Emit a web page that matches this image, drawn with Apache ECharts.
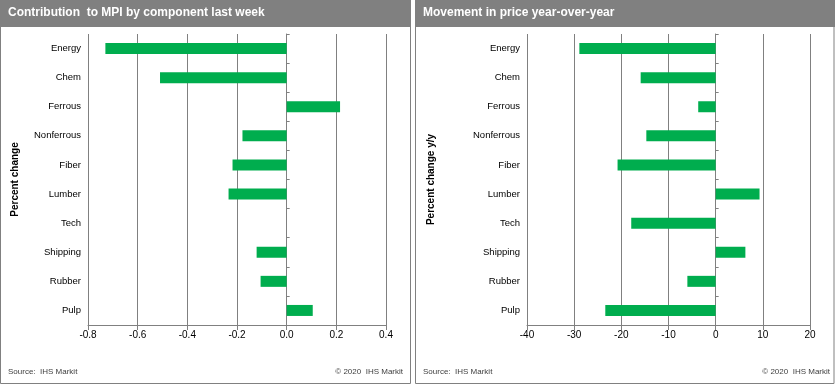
<!DOCTYPE html>
<html>
<head>
<meta charset="utf-8">
<script src="https://cdn.jsdelivr.net/npm/echarts@6/dist/echarts.min.js"></script>
<style>html,body{margin:0;padding:0;background:#fff}#c{width:837px;height:385px}</style>
</head>
<body>
<div id="c"></div>
<script>
const categories = ['Energy','Chem','Ferrous','Nonferrous','Fiber','Lumber','Tech','Shipping','Rubber','Pulp'];
const contribution = [-0.73, -0.51, 0.215, -0.178, -0.218, -0.234, 0, -0.121, -0.105, 0.105];
const yoyMovement = [-28.9, -15.9, -3.7, -14.7, -20.8, 9.3, -17.9, 6.3, -6.0, -23.4];
const leftTicks = {min: -0.8, max: 0.4, interval: 0.2};
const rightTicks = {min: -40, max: 20, interval: 10};

const FONT = '"Liberation Sans", Arial, sans-serif';
const GRAY = '#808080';
const GREEN = '#00AD4E';
const chart = echarts.init(document.getElementById('c'), null, {renderer: 'canvas'});

function xAxisDef(idx, t, digits) {
  return {
    type: 'value', gridIndex: idx, min: t.min, max: t.max, interval: t.interval,
    axisLine: {show: true, onZero: false, lineStyle: {color: GRAY, width: 1}},
    axisTick: {show: true, length: 5, lineStyle: {color: GRAY}},
    axisLabel: {color: '#000', fontFamily: FONT, fontSize: 10, margin: 5,
      formatter: v => Number(v).toFixed(digits)},
    splitLine: {show: true, lineStyle: {color: GRAY, width: 1}}
  };
}
function yLabelAxis(idx, name, gap) {
  return {
    type: 'category', gridIndex: idx, data: categories, inverse: true, position: 'left',
    axisLine: {show: false, onZero: false}, axisTick: {show: false},
    axisLabel: {color: '#000', fontFamily: FONT, fontSize: 9.5, margin: 7},
    name: name, nameLocation: 'middle', nameRotate: 90, nameGap: gap,
    nameTextStyle: {color: '#000', fontFamily: FONT, fontSize: 10, fontWeight: 'bold'}
  };
}
function yZeroAxis(idx) {
  return {
    type: 'category', gridIndex: idx, data: categories, inverse: true, position: 'right',
    axisLine: {show: true, onZero: true, lineStyle: {color: GRAY, width: 1}},
    axisTick: {show: true, length: 3, lineStyle: {color: GRAY}},
    axisLabel: {show: false}, splitLine: {show: false}
  };
}

const option = {
  animation: false,
  textStyle: {fontFamily: FONT},
  graphic: [
    {type: 'rect', shape: {x: 0.5, y: 0.5, width: 410, height: 383}, style: {fill: '#fff', stroke: GRAY, lineWidth: 1}, z: -10},
    {type: 'rect', shape: {x: 0, y: 0, width: 411, height: 27}, style: {fill: GRAY}, z: -9},
    {type: 'rect', shape: {x: 415.5, y: 0.5, width: 418.5, height: 383}, style: {fill: '#fff', stroke: GRAY, lineWidth: 1}, z: -10},
    {type: 'rect', shape: {x: 415, y: 0, width: 420, height: 27}, style: {fill: GRAY}, z: -9},
    {type: 'text', left: 8, top: 7, style: {text: 'Contribution  to MPI by component last week', fill: '#fff', font: 'bold 12px ' + FONT}},
    {type: 'text', left: 423, top: 7, style: {text: 'Movement in price year-over-year', fill: '#fff', font: 'bold 12px ' + FONT}},
    {type: 'text', left: 8, top: 368, style: {text: 'Source:  IHS Markit', fill: '#404040', font: '8px ' + FONT}},
    {type: 'text', right: 434, top: 368, style: {text: '\u00a9 2020  IHS Markit', fill: '#404040', font: '8px ' + FONT}},
    {type: 'text', left: 423, top: 368, style: {text: 'Source:  IHS Markit', fill: '#404040', font: '8px ' + FONT}},
    {type: 'text', right: 7, top: 368, style: {text: '\u00a9 2020  IHS Markit', fill: '#404040', font: '8px ' + FONT}}
  ],
  grid: [
    {left: 88, right: 451, top: 34, bottom: 60, containLabel: false},
    {left: 527, right: 27, top: 34, bottom: 60, containLabel: false}
  ],
  xAxis: [xAxisDef(0, leftTicks, 1), xAxisDef(1, rightTicks, 0)],
  yAxis: [yLabelAxis(0, 'Percent change', 68), yZeroAxis(0), yLabelAxis(1, 'Percent change y/y', 91), yZeroAxis(1)],
  series: [
    {type: 'bar', xAxisIndex: 0, yAxisIndex: 0, data: contribution, barWidth: 11, itemStyle: {color: GREEN}, z: 1},
    {type: 'bar', xAxisIndex: 1, yAxisIndex: 2, data: yoyMovement, barWidth: 11, itemStyle: {color: GREEN}, z: 1}
  ]
};
chart.setOption(option);
</script>
</body>
</html>
